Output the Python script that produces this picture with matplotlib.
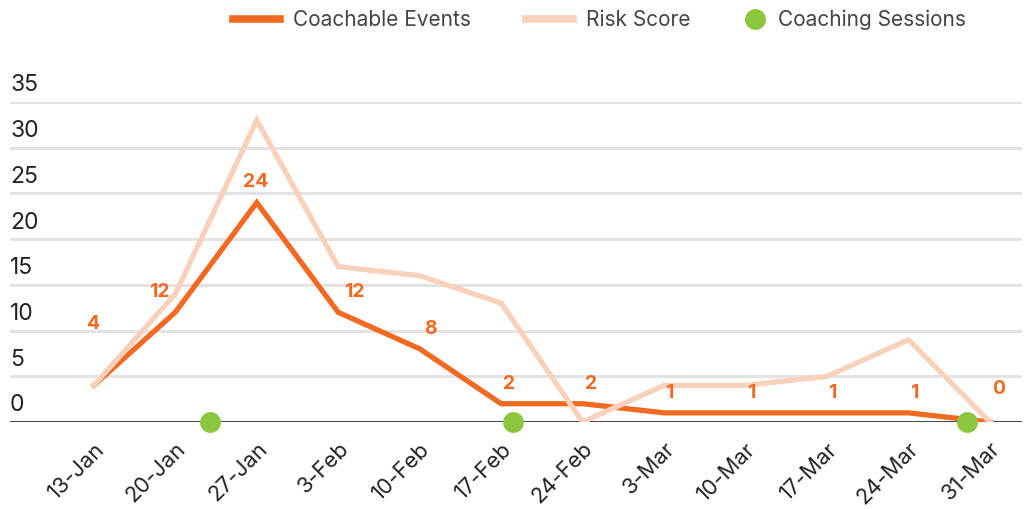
import matplotlib.pyplot as plt
import matplotlib.transforms as mtransforms
import pandas as pd

plt.rcParams["font.family"] = ["Inter", "DejaVu Sans"]

# data
week_starts = ["2025-01-13", "2025-01-20", "2025-01-27", "2025-02-03", "2025-02-10", "2025-02-17",
               "2025-02-24", "2025-03-03", "2025-03-10", "2025-03-17", "2025-03-24", "2025-03-31"]
week_labels = ["13-Jan", "20-Jan", "27-Jan", "3-Feb", "10-Feb", "17-Feb",
               "24-Feb", "3-Mar", "10-Mar", "17-Mar", "24-Mar", "31-Mar"]
coachable_events = [4, 12, 24, 12, 8, 2, 2, 1, 1, 1, 1, 0]
risk_score = [4, 14, 33, 17, 16, 13, 0, 4, 4, 5, 9, 0]
session_dates = ["2025-01-23", "2025-02-18", "2025-03-29"]
y_ticks = [0, 5, 10, 15, 20, 25, 30, 35]

ORANGE = "#F26A22"
PEACH = "#F8D1BB"
GREEN = "#8CC63F"

dates = pd.to_datetime(week_starts)
sessions = pd.to_datetime(session_dates)

fig = plt.figure(figsize=(10.25, 5.09), dpi=100)
ax = fig.add_axes([10 / 1025, 1 - 422 / 509, 1012 / 1025, 320 / 509])

# gridlines
for v in y_ticks[1:]:
    ax.axhline(v, color="#E3E3E3", lw=2.2, zorder=0)
ax.axhline(0, color="#4A4A4A", lw=2.2, zorder=1)

l1, = ax.plot(dates, coachable_events, color=ORANGE, lw=3.8, solid_joinstyle="miter",
              label="Coachable Events", zorder=3)
l2, = ax.plot(dates, risk_score, color=PEACH, lw=3.8, solid_joinstyle="miter",
              label="Risk Score", zorder=4)
l3, = ax.plot(sessions, [0] * len(sessions), "o", color=GREEN, ms=15, mec="none",
              label="Coaching Sessions", zorder=5, clip_on=False)

# value labels (small nudges so they sit like the original)
nudge_x = [0, -11.5, -1, 11.5, 8, 6, 6, 4, 4, 4, 4, 6]
for i, (d, v) in enumerate(zip(dates, coachable_events)):
    dy = 38 if i == 0 else (17 if v == 0 else 8)
    ax.annotate(str(v), (d, v), xytext=(nudge_x[i], dy), textcoords="offset points",
                ha="center", va="bottom", color=ORANGE, fontsize=14,
                fontweight="bold", zorder=6)

ax.set_xlim(dates[0] - pd.Timedelta(days=7.2), dates[-1] + pd.Timedelta(days=2.75))
ax.set_ylim(0, 35)

# y labels above gridlines
trans = mtransforms.blended_transform_factory(ax.transAxes, ax.transData)
for v in y_ticks:
    ax.annotate(str(v), (0, v), xycoords=trans, xytext=(0, 4), textcoords="offset points",
                ha="left", va="bottom", fontsize=16.5, color="#222222")

ax.set_yticks([])
ax.set_xticks(dates)
ax.set_xticklabels(week_labels, rotation=45, ha="right", va="top",
                   rotation_mode="anchor", fontsize=15.8, color="#222222")
ax.tick_params(axis="x", length=0, pad=12)
for s in ax.spines.values():
    s.set_visible(False)

# legend, one entry at a time so the dot gets a short handle
legend_items = [(l1, 233, 2.26), (l2, 526, 2.26), (l3, 745, 0.96)]
for handle, x_px, hl in legend_items:
    leg = fig.legend([handle], [handle.get_label()], loc="center left",
                     bbox_to_anchor=(x_px / 1025, 1 - 20 / 509), frameon=False,
                     fontsize=15, handlelength=hl, handletextpad=0.6,
                     borderpad=0, borderaxespad=0, labelcolor="#444444")
    lh = leg.legend_handles[0]
    if handle is l3:
        lh.set_markersize(15)
    else:
        lh.set_linewidth(5.5)

fig.savefig("out.png", dpi=100)
